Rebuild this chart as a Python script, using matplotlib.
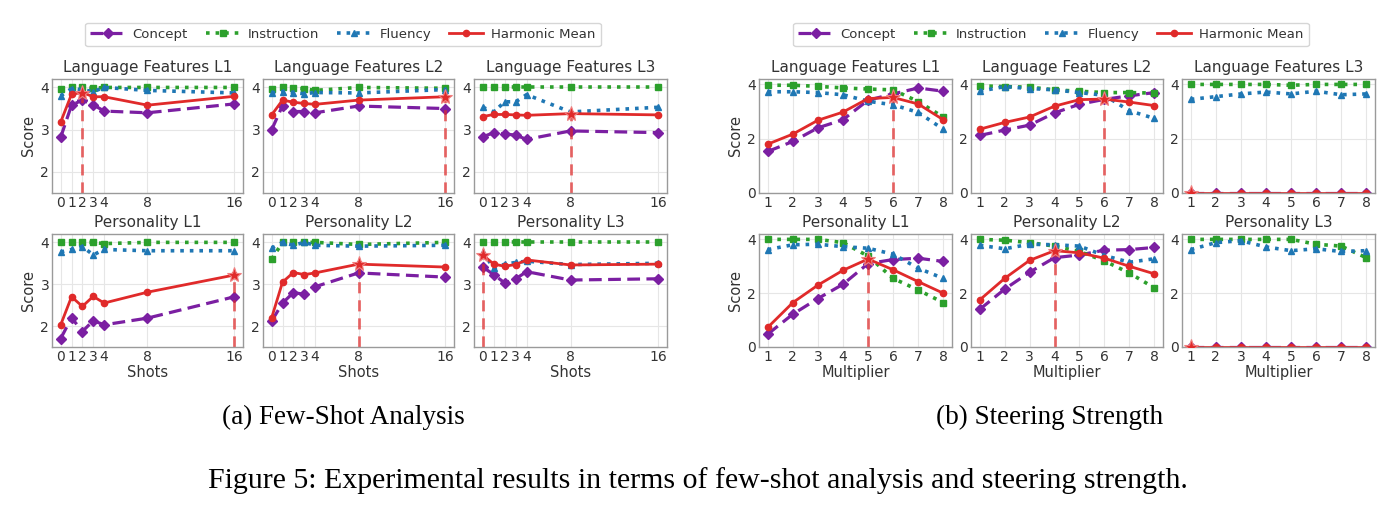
import matplotlib
matplotlib.use('Agg')
import matplotlib.pyplot as plt
from matplotlib.lines import Line2D
import numpy as np

W, H = 1398, 512

shots = [0, 1, 2, 3, 4, 8, 16]
mults = [1, 2, 3, 4, 5, 6, 7, 8]
titles = ['Language Features L1', 'Language Features L2', 'Language Features L3',
          'Personality L1', 'Personality L2', 'Personality L3']

# few-shot analysis, one row per panel (same order as titles)
fs_concept = [
    [2.82, 3.58, 3.70, 3.59, 3.44, 3.40, 3.61],
    [3.00, 3.57, 3.43, 3.43, 3.40, 3.56, 3.50],
    [2.83, 2.93, 2.90, 2.87, 2.77, 2.97, 2.93],
    [1.70, 2.20, 1.87, 2.13, 2.03, 2.19, 2.70],
    [2.12, 2.55, 2.80, 2.76, 2.94, 3.27, 3.17],
    [3.41, 3.23, 3.03, 3.13, 3.30, 3.10, 3.13],
]
fs_instruction = [
    [3.97, 4.00, 4.00, 3.98, 4.00, 4.00, 4.00],
    [3.97, 4.00, 3.98, 3.97, 3.93, 4.00, 3.98],
    [4.00, 4.00, 4.00, 4.00, 4.00, 4.00, 4.00],
    [4.00, 4.00, 4.00, 4.00, 3.97, 4.00, 4.00],
    [3.60, 4.00, 4.00, 4.00, 4.00, 3.95, 4.00],
    [4.00, 4.00, 4.00, 4.00, 4.00, 4.00, 4.00],
]
fs_fluency = [
    [3.80, 3.97, 3.95, 3.90, 4.00, 3.93, 3.87],
    [3.87, 3.90, 3.88, 3.85, 3.88, 3.87, 3.95],
    [3.53, 3.42, 3.66, 3.66, 3.83, 3.42, 3.53],
    [3.77, 3.83, 3.90, 3.70, 3.83, 3.80, 3.80],
    [3.86, 4.00, 3.93, 4.00, 3.93, 3.91, 3.93],
    [3.77, 3.38, 3.48, 3.52, 3.55, 3.47, 3.50],
]
fs_hmean = [
    [3.18, 3.84, 3.88, 3.78, 3.78, 3.58, 3.79],
    [3.35, 3.70, 3.65, 3.62, 3.60, 3.70, 3.78],
    [3.31, 3.36, 3.36, 3.35, 3.34, 3.38, 3.35],
    [2.03, 2.70, 2.47, 2.71, 2.55, 2.81, 3.22],
    [2.20, 3.05, 3.28, 3.23, 3.27, 3.48, 3.41],
    [3.70, 3.48, 3.43, 3.47, 3.58, 3.46, 3.48],
]

# steering strength
st_concept = [
    [1.53, 1.90, 2.40, 2.70, 3.42, 3.65, 3.87, 3.75],
    [2.12, 2.32, 2.50, 2.95, 3.27, 3.45, 3.58, 3.70],
    [0.00, 0.00, 0.00, 0.00, 0.00, 0.00, 0.00, 0.00],
    [0.48, 1.22, 1.80, 2.33, 3.10, 3.25, 3.30, 3.18],
    [1.40, 2.15, 2.78, 3.32, 3.42, 3.60, 3.62, 3.70],
    [0.00, 0.00, 0.00, 0.00, 0.00, 0.00, 0.00, 0.00],
]
st_instruction = [
    [3.97, 3.97, 3.93, 3.87, 3.83, 3.80, 3.37, 2.80],
    [3.95, 3.92, 3.90, 3.80, 3.75, 3.70, 3.70, 3.68],
    [4.00, 4.00, 4.00, 4.00, 3.97, 4.00, 4.00, 4.00],
    [4.00, 4.00, 4.00, 3.88, 3.38, 2.55, 2.12, 1.65],
    [4.00, 3.97, 3.88, 3.75, 3.55, 3.20, 2.75, 2.20],
    [4.00, 4.00, 4.00, 4.00, 4.00, 3.82, 3.75, 3.32],
]
st_fluency = [
    [3.73, 3.73, 3.70, 3.62, 3.38, 3.25, 2.97, 2.35],
    [3.75, 3.92, 3.85, 3.80, 3.70, 3.60, 3.03, 2.75],
    [3.45, 3.55, 3.65, 3.72, 3.65, 3.75, 3.62, 3.65],
    [3.62, 3.80, 3.82, 3.73, 3.67, 3.45, 2.93, 2.55],
    [3.78, 3.65, 3.82, 3.80, 3.75, 3.40, 3.15, 3.28],
    [3.62, 3.88, 3.95, 3.72, 3.58, 3.65, 3.55, 3.58],
]
st_hmean = [
    [1.80, 2.17, 2.68, 2.98, 3.48, 3.52, 3.28, 2.70],
    [2.35, 2.60, 2.80, 3.20, 3.44, 3.46, 3.35, 3.22],
    [0.00, 0.00, 0.00, 0.00, 0.00, 0.00, 0.00, 0.00],
    [0.73, 1.65, 2.30, 2.85, 3.27, 2.87, 2.43, 2.00],
    [1.75, 2.55, 3.22, 3.58, 3.50, 3.30, 3.00, 2.72],
    [0.00, 0.00, 0.00, 0.00, 0.00, 0.00, 0.00, 0.00],
]

c_concept = '#7b1fa2'
c_instr = '#2ca02c'
c_flu = '#1f77b4'
c_hm = '#e02a2a'
txt = '#333333'

fig = plt.figure(figsize=(W / 100, H / 100), dpi=100)


def px_axes(x0, x1, y0, y1):
    return fig.add_axes([x0 / W, 1 - y1 / H, (x1 - x0) / W, (y1 - y0) / H])


def panel(ax, x, con, ins, flu, hm, ylim, yticks, title):
    ax.plot(x, con, color=c_concept, ls='--', lw=2.3, marker='D', ms=5, dashes=(4, 2))
    ax.plot(x, ins, color=c_instr, ls=':', lw=2.6, marker='s', ms=5)
    ax.plot(x, flu, color=c_flu, ls=':', lw=2.6, marker='^', ms=5)
    ax.plot(x, hm, color=c_hm, ls='-', lw=2.0, marker='o', ms=4.5)
    best = int(np.argmax(hm))
    ax.plot([x[best], x[best]], [ylim[0], hm[best]], color=c_hm, ls='--', lw=2, alpha=0.7,
            dashes=(4, 2.5))
    ax.plot([x[best]], [hm[best]], marker='*', ms=11, color=c_hm, mec='#f08080', mew=0.8, zorder=5)
    ax.set_ylim(*ylim)
    ax.set_yticks(yticks)
    ax.set_xticks(x)
    ax.set_title(title, fontsize=11, color=txt, pad=5)
    ax.grid(True, color='#e6e6e6', lw=0.8)
    ax.set_axisbelow(True)
    ax.tick_params(length=0, labelsize=10, labelcolor=txt, pad=2)
    for s in ax.spines.values():
        s.set_color('#9a9a9a')
        s.set_linewidth(1.0)


left_cols = [(52, 243), (263, 454), (474, 667)]
right_cols = [(759, 952), (971, 1163), (1182, 1375)]
rows = [(79, 193), (234, 347)]

for i in range(6):
    r, c = divmod(i, 3)
    ax = px_axes(left_cols[c][0], left_cols[c][1], rows[r][0], rows[r][1])
    panel(ax, shots, fs_concept[i], fs_instruction[i], fs_fluency[i], fs_hmean[i],
          (1.5, 4.2), [2, 3, 4], titles[i])
    if c == 0:
        ax.set_ylabel('Score', fontsize=10.5, color=txt, labelpad=3)
    if r == 1:
        ax.set_xlabel('Shots', fontsize=10.5, color=txt, labelpad=1)

    ax = px_axes(right_cols[c][0], right_cols[c][1], rows[r][0], rows[r][1])
    panel(ax, mults, st_concept[i], st_instruction[i], st_fluency[i], st_hmean[i],
          (0, 4.2), [0, 2, 4], titles[i])
    if c == 0:
        ax.set_ylabel('Score', fontsize=10.5, color=txt, labelpad=3)
    if r == 1:
        ax.set_xlabel('Multiplier', fontsize=10.5, color=txt, labelpad=1)

handles = [
    Line2D([], [], color=c_concept, ls='--', lw=2.3, marker='D', ms=5, dashes=(4, 2)),
    Line2D([], [], color=c_instr, ls=':', lw=2.6, marker='s', ms=5),
    Line2D([], [], color=c_flu, ls=':', lw=2.6, marker='^', ms=5),
    Line2D([], [], color=c_hm, ls='-', lw=2.0, marker='o', ms=4.5),
]
labels = ['Concept', 'Instruction', 'Fluency', 'Harmonic Mean']
for cx in (343, 1051):
    leg = fig.legend(handles, labels, loc='center', bbox_to_anchor=(cx / W, 1 - 34.5 / H),
                     ncol=4, fontsize=9.5, frameon=True, fancybox=True, handlelength=2.6,
                     columnspacing=1.35, borderpad=0.4, handletextpad=0.6)
    leg.get_frame().set_edgecolor('#cccccc')
    for t in leg.get_texts():
        t.set_color(txt)

fig.text(343 / W, 1 - 417 / H, '(a) Few-Shot Analysis', ha='center', va='center',
         fontsize=19.5, family='Liberation Serif')
fig.text(1050 / W, 1 - 417 / H, '(b) Steering Strength', ha='center', va='center',
         fontsize=19.5, family='Liberation Serif')
fig.text(698 / W, 1 - 481 / H,
         'Figure 5: Experimental results in terms of few-shot analysis and steering strength.',
         ha='center', va='center', fontsize=21.5, family='Liberation Serif')

fig.savefig('out.png', dpi=100)
